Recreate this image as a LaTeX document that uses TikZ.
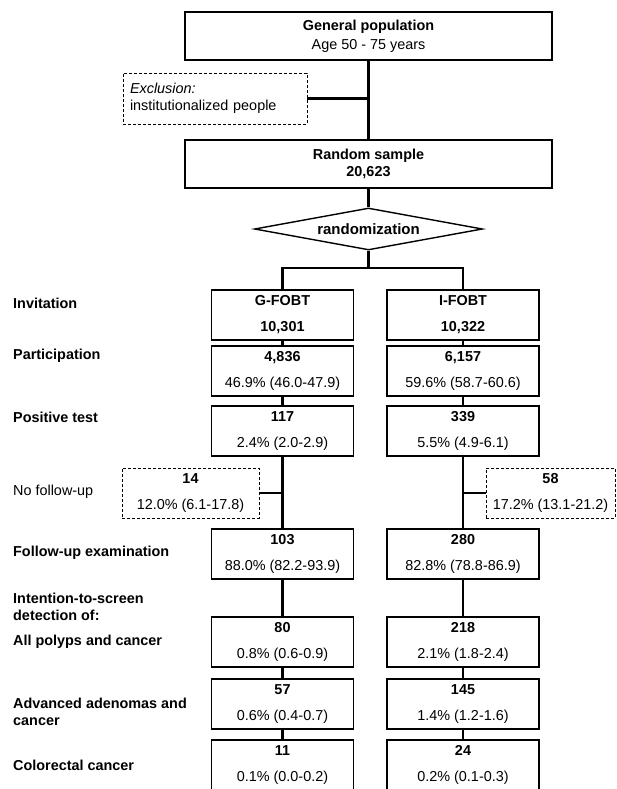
\documentclass[tikz,border=0pt]{standalone}
\usepackage{fontspec}
\setmainfont{Liberation Sans}
\usetikzlibrary{shapes.geometric}
\tikzset{
	box/.style={draw, line width=1.6pt, align=center, inner sep=2pt, minimum height=50pt},
	wide/.style={box, minimum width=367pt, minimum height=48pt},
	gcol/.style={box, minimum width=142pt},
	icol/.style={box, minimum width=152pt},
	dbox/.style={draw, dashed, dash pattern=on 3pt off 2pt, line width=0.8pt, align=center, inner sep=2pt, minimum height=50pt},
	lbl/.style={anchor=west, align=left, inner sep=0pt, font=\bfseries},
	conn/.style={line width=2.6pt}
}
\begin{document}
\fontsize{14.4}{17}\selectfont
\begin{tikzpicture}[x=1pt, y=-1pt]
		\useasboundingbox (0,0) rectangle (617,789);
		% top part
		\node(Pop)		[wide] at (368.5,36)	{\textbf{General population}\\[2pt]Age 50 - 75 years};
		\node(Excl)		[dbox, text width=170pt, align=left, inner xsep=7pt, minimum height=51pt] at (215,98.5)	{\textit{Exclusion:}\\institutionalized people};
		\node(Sample)	[wide] at (368.5,164)	{\textbf{Random sample}\\\textbf{20,623}};
		\node(Rand)		[diamond, draw, line width=1.4pt, aspect=5, inner sep=1pt, minimum width=228pt, minimum height=42pt, font=\fontsize{15}{18}\selectfont\bfseries] at (368.5,229)	{randomization};
		\coordinate(split) at (368.5,268);
		% G-FOBT arm
		\node(GInv)		[gcol] at (282.5,315)	{\textbf{G-FOBT}\\[9pt]\textbf{10,301}};
		\node(GPart)	[gcol, below of=GInv, node distance=56pt]	{\textbf{4,836}\\[9pt]46.9\% (46.0-47.9)};
		\node(GPos)		[gcol, below of=GPart, node distance=60pt]	{\textbf{117}\\[9pt]2.4\% (2.0-2.9)};
		\node(GFol)		[gcol, below of=GPos, node distance=123pt]	{\textbf{103}\\[9pt]88.0\% (82.2-93.9)};
		\node(GPol)		[gcol, below of=GFol, node distance=88pt]	{\textbf{80}\\[9pt]0.8\% (0.6-0.9)};
		\node(GAdv)		[gcol, below of=GPol, node distance=62pt]	{\textbf{57}\\[9pt]0.6\% (0.4-0.7)};
		\node(GCol)		[gcol, below of=GAdv, node distance=61pt]	{\textbf{11}\\[9pt]0.1\% (0.0-0.2)};
		\node(GNo)		[dbox, minimum width=137pt] at (190.5,493)	{\textbf{14}\\[9pt]12.0\% (6.1-17.8)};
		% I-FOBT arm
		\node(IInv)		[icol] at (463,315)	{\textbf{I-FOBT}\\[9pt]\textbf{10,322}};
		\node(IPart)	[icol, below of=IInv, node distance=56pt]	{\textbf{6,157}\\[9pt]59.6\% (58.7-60.6)};
		\node(IPos)		[icol, below of=IPart, node distance=60pt]	{\textbf{339}\\[9pt]5.5\% (4.9-6.1)};
		\node(IFol)		[icol, below of=IPos, node distance=123pt]	{\textbf{280}\\[9pt]82.8\% (78.8-86.9)};
		\node(IPol)		[icol, below of=IFol, node distance=88pt]	{\textbf{218}\\[9pt]2.1\% (1.8-2.4)};
		\node(IAdv)		[icol, below of=IPol, node distance=62pt]	{\textbf{145}\\[9pt]1.4\% (1.2-1.6)};
		\node(ICol)		[icol, below of=IAdv, node distance=61pt]	{\textbf{24}\\[9pt]0.2\% (0.1-0.3)};
		\node(INo)		[dbox, minimum width=129pt] at (550.5,493)	{\textbf{58}\\[9pt]17.2\% (13.1-21.2)};
		% row labels
		\node(lInv)		[lbl] at (13,303)	{Invitation};
		\node(lPart)	[lbl] at (13,356)	{Participation};
		\node(lPos)		[lbl] at (13,417)	{Positive test};
		\node(lNo)		[lbl, font=\mdseries] at (13,492)	{No follow-up};
		\node(lFol)		[lbl] at (13,553)	{Follow-up examination};
		\node(lIts)		[lbl] at (13,606.5)	{Intention-to-screen\\detection of:};
		\node(lPol)		[lbl] at (13,642)	{All polyps and cancer};
		\node(lAdv)		[lbl] at (13,712)	{Advanced adenomas and\\cancer};
		\node(lCol)		[lbl] at (13,765)	{Colorectal cancer};
		% connectors
		\draw[conn](Pop)		-- (Sample);
		\draw[conn](Excl.east)	-- (Excl.east -| Pop.south);
		\draw[conn](Sample)		-- (Rand);
		\draw[conn](Rand.south)	-- (split);
		\draw[conn](GInv.north)	|- (split) -| (IInv.north);
		\draw[conn](GInv) -- (GPart) -- (GPos) -- (GFol) -- (GPol) -- (GAdv) -- (GCol);
		\draw[conn](IInv) -- (IPart) -- (IPos) -- (IFol) -- (IPol) -- (IAdv) -- (ICol);
		\draw[conn](GNo.east)	-- (GNo.east -| GPos.south);
		\draw[conn](INo.west)	-- (INo.west -| IPos.south);
\end{tikzpicture}
\end{document}
